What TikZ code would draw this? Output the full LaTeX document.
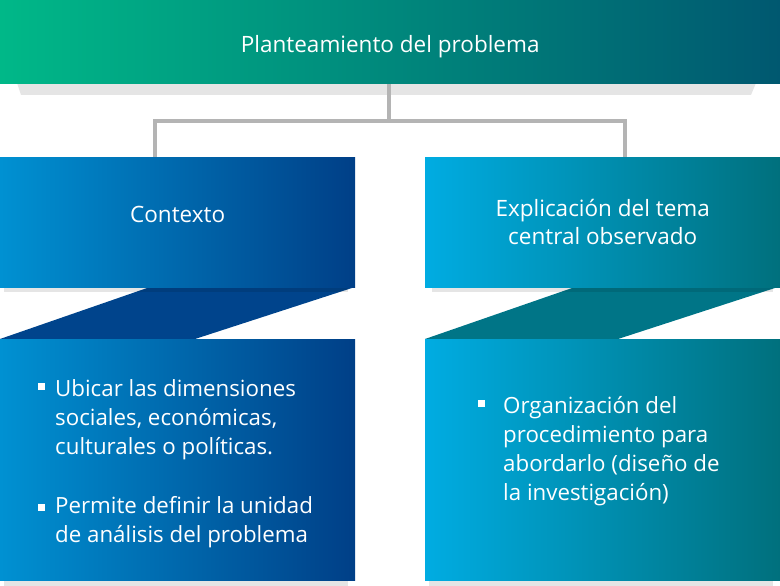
\documentclass[tikz,border=0pt]{standalone}
\usepackage{fontspec}
\setmainfont{Open Sans}
\usepackage{tikz}
\usetikzlibrary{positioning}
\pgfdeclarelayer{background}
\pgfdeclarelayer{foreground}
\pgfsetlayers{background,main,foreground}

\definecolor{topL}{RGB}{0,184,136}
\definecolor{topR}{RGB}{0,88,112}
\definecolor{ctxL}{RGB}{0,145,210}
\definecolor{ctxR}{RGB}{0,63,135}
\definecolor{ctxFold}{RGB}{0,68,140}
\definecolor{expL}{RGB}{0,172,226}
\definecolor{expR}{RGB}{0,112,125}
\definecolor{expFold}{RGB}{0,117,135}
\definecolor{linkgray}{RGB}{180,180,180}

\begin{document}
\begin{tikzpicture}[x=1pt, y=-1pt,
							boxnode/.style={rectangle, inner sep=0pt, anchor=north west, text=white, align=center, font=\fontsize{22.5}{28}\selectfont},
							itemnode/.style={inner sep=0pt, anchor=north west, text=white, align=left, font=\fontsize{22.3}{29}\selectfont},
							dotnode/.style={rectangle, fill=white, inner sep=0pt, minimum size=7pt},
							shade/.style={fill=black, opacity=0.1},
							link/.style={draw=linkgray, line width=4pt},
							]
							\useasboundingbox (0,0) rectangle (780,586);
							%Nodes
							\node[boxnode, minimum width=780pt, minimum height=83pt, left color=topL, right color=topR, text height=27pt] (top) at (0,0) {Planteamiento del problema};
							\node[boxnode, minimum width=355pt, minimum height=130pt, left color=ctxL, right color=ctxR, text depth=16pt] (ctx) at (0,157) {Contexto};
							\node[boxnode, minimum width=355pt, minimum height=130pt, left color=expL, right color=expR] (expl) at (425,157) {Explicación del tema\\central observado};
							\node[boxnode, minimum width=355pt, minimum height=241pt, left color=ctxL, right color=ctxR] (ctxbody) at (0,339) {};
							\node[boxnode, minimum width=355pt, minimum height=241pt, left color=expL, right color=expR] (explbody) at (425,339) {};
							\node[itemnode] (item1) at (55,379) {Ubicar las dimensiones\\sociales, económicas,\\culturales o políticas.};
							\node[itemnode] (item2) at (55,496) {Permite definir la unidad\\de análisis del problema};
							\node[itemnode] (item3) at (503,396) {Organización del\\procedimiento para\\abordarlo (diseño de\\la investigación)};
							\node[dotnode] (dot1) at (41,386) {};
							\node[dotnode] (dot2) at (41,507) {};
							\node[dotnode] (dot3) at (481,403) {};
							\coordinate (hub) at (389,121);

							\begin{pgfonlayer}{background}
							%Folds and shadows
							\fill[ctxFold] (150,287) -- (355,287) -- (195,339) -- (0,339) -- cycle;
							\fill[expFold] (575,287) -- (778,287) -- (618,339) -- (425,339) -- cycle;
							\fill[shade] (17,83) -- (756,83) -- (751,95) -- (21,95) -- cycle;
							\fill[shade] (4,287) rectangle (348,292);
							\fill[shade] (432,287) rectangle (773,292);
							\fill[shade] (4,580) rectangle (348,586);
							\fill[shade] (429,580) rectangle (773,586);
							%Lines
							\draw[link] (top.south -| hub) -- (hub);
							\draw[link] (hub) -| (ctx.north -| 155,0);
							\draw[link] (hub) -| (expl.north -| 625,0);
							\end{pgfonlayer}
						\end{tikzpicture}
\end{document}
